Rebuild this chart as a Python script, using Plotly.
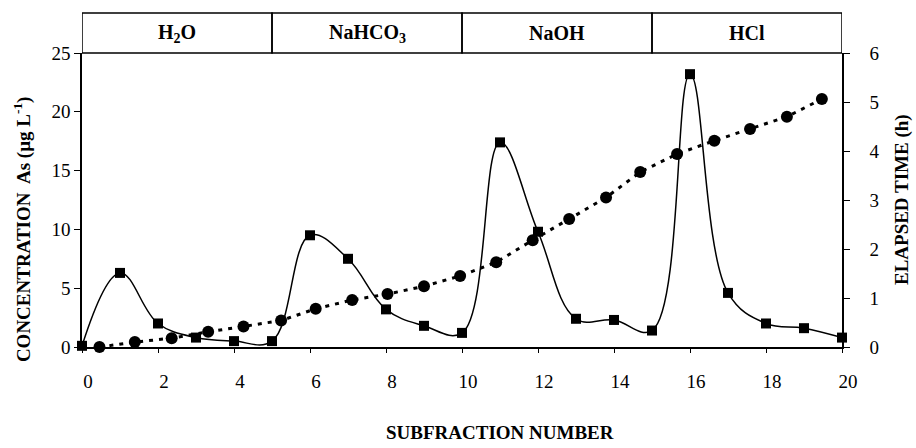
import plotly.graph_objects as go

# Concentration As (µg/L) per subfraction number (left axis, squares)
subfraction = [0, 1, 2, 3, 4, 5, 6, 7, 8, 9, 10, 11, 12, 13, 14, 15, 16, 17, 18, 19, 20]
concentration = [0.1, 6.3, 2.0, 0.8, 0.5, 0.5, 9.5, 7.5, 3.2, 1.8, 1.2,
                 17.4, 9.8, 2.4, 2.3, 1.4, 23.2, 4.6, 2.0, 1.6, 0.8]

# Elapsed time (h) (right axis, circles)
time_x = [0.46, 1.39, 2.36, 3.32, 4.25, 5.24, 6.15, 7.11, 8.04, 9.0, 9.95,
          10.9, 11.86, 12.82, 13.79, 14.69, 15.66, 16.64, 17.58, 18.55, 19.47]
elapsed = [0.0, 0.1, 0.18, 0.31, 0.42, 0.54, 0.78, 0.96, 1.08, 1.24, 1.45,
           1.73, 2.18, 2.61, 3.05, 3.57, 3.94, 4.21, 4.45, 4.70, 5.06]

# Extraction step bands (header boxes)
steps = ["H<sub>2</sub>O", "NaHCO<sub>3</sub>", "NaOH", "HCl"]
step_start = [0, 5, 10, 15]
step_end = [5, 10, 15, 20]

x_ticks = [0, 2, 4, 6, 8, 10, 12, 14, 16, 18, 20]

FONT = "Liberation Serif"

fig = go.Figure()
fig.add_trace(go.Scatter(
    x=subfraction, y=concentration, mode="lines+markers",
    line=dict(color="black", width=1.5, shape="spline", smoothing=1.1),
    marker=dict(symbol="square", size=10, color="black"),
    cliponaxis=False, showlegend=False))
fig.add_trace(go.Scatter(
    x=time_x, y=elapsed, mode="lines+markers", yaxis="y2",
    line=dict(color="black", width=3, dash="4px,6px"),
    marker=dict(symbol="circle", size=12, color="black"),
    cliponaxis=False, showlegend=False))

shapes = []
annotations = []
for lab, s, e in zip(steps, step_start, step_end):
    shapes.append(dict(type="rect", xref="x", yref="paper", x0=s, x1=e,
                       y0=1.0, y1=1.136, line=dict(color="black", width=1.5)))
    annotations.append(dict(xref="x", yref="paper", x=(s + e) / 2, y=1.068,
                            text="<b>" + lab + "</b>", showarrow=False,
                            font=dict(family=FONT, size=20, color="black"),
                            xanchor="center", yanchor="middle"))

annotations.append(dict(xref="paper", yref="paper", x=0.55, y=-0.29,
                        text="<b>SUBFRACTION NUMBER</b>", showarrow=False,
                        font=dict(family=FONT, size=19, color="black"),
                        xanchor="center", yanchor="middle"))
annotations.append(dict(xref="paper", yref="paper", x=-0.078, y=0.40,
                        text="<b>CONCENTRATION  As (\u00b5g L<sup>-1</sup>)</b>",
                        showarrow=False, textangle=-90,
                        font=dict(family=FONT, size=19, color="black"),
                        xanchor="center", yanchor="middle"))
annotations.append(dict(xref="paper", yref="paper", x=1.079, y=0.50,
                        text="<b>ELAPSED TIME (h)</b>", showarrow=False, textangle=-90,
                        font=dict(family=FONT, size=19, color="black"),
                        xanchor="center", yanchor="middle"))

fig.update_layout(
    width=916, height=448,
    margin=dict(l=82, r=74, t=53, b=101),
    paper_bgcolor="white", plot_bgcolor="white",
    font=dict(family=FONT, size=19, color="black"),
    shapes=shapes, annotations=annotations,
    xaxis=dict(range=[0, 20], tickvals=x_ticks, ticks="outside", ticklen=4,
               tickcolor="black", showline=True, linecolor="black", linewidth=1.5,
               showgrid=False, zeroline=False, ticklabelshift=6, ticklabelstandoff=12,
               tickfont=dict(family=FONT, size=19)),
    yaxis=dict(range=[0, 25], dtick=5, ticks="outside", ticklen=6, tickcolor="black",
               showline=True, linecolor="black", linewidth=1.5, showgrid=False,
               zeroline=False, tickfont=dict(family=FONT, size=19)),
    yaxis2=dict(range=[0, 6], dtick=1, overlaying="y", side="right", ticks="outside",
                ticklen=6, tickcolor="black", showline=True, linecolor="black",
                linewidth=1.5, showgrid=False, zeroline=False, ticklabelstandoff=16,
                tickfont=dict(family=FONT, size=19)),
)

fig.write_html("out.html")
